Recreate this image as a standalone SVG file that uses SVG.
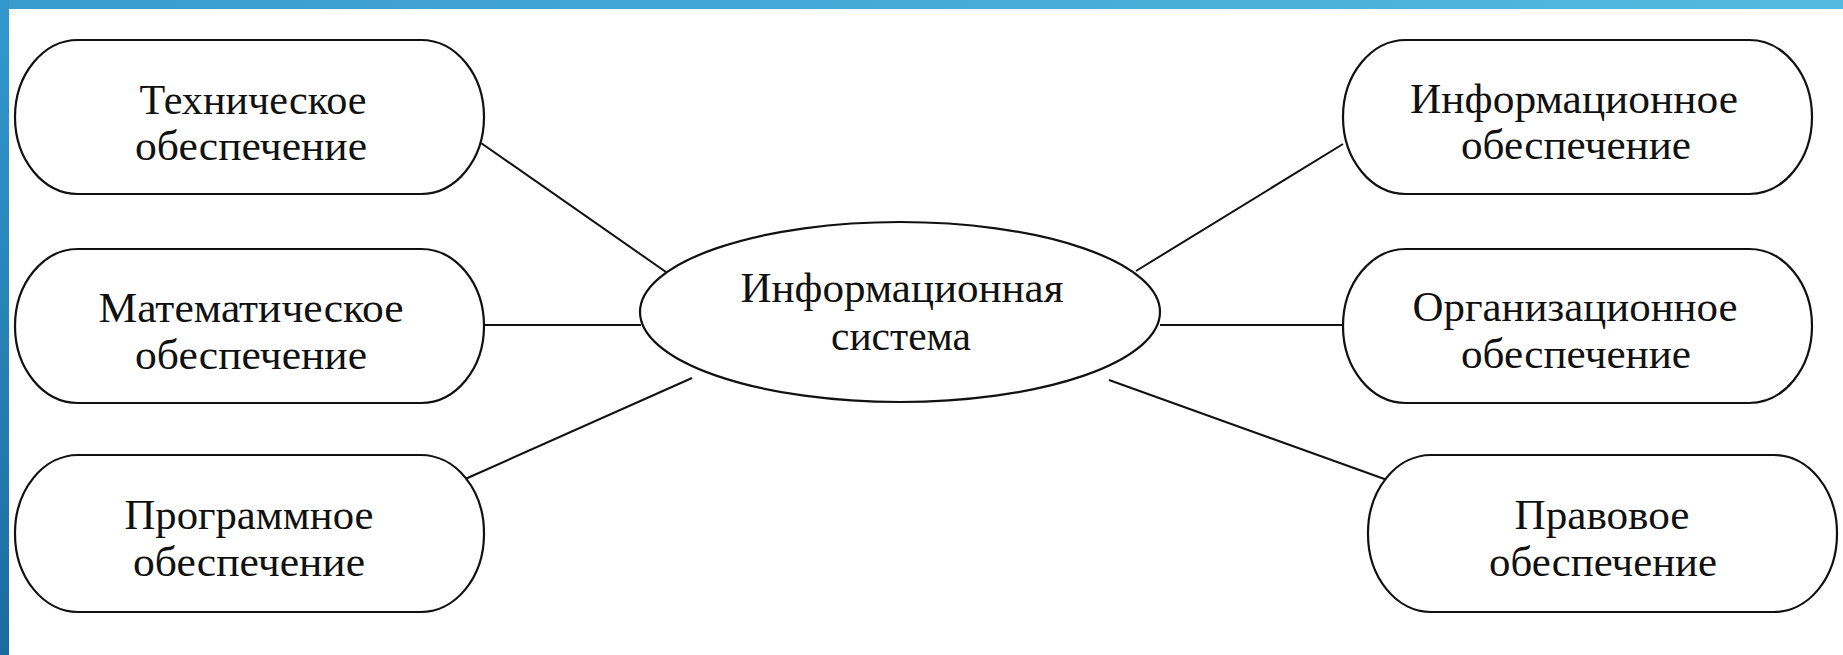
<svg xmlns="http://www.w3.org/2000/svg" width="1843" height="655" viewBox="0 0 1843 655">
<defs>
<linearGradient id="topbar" x1="0" y1="0" x2="1" y2="0">
<stop offset="0" stop-color="#3a9bcf"/>
<stop offset="1" stop-color="#55b9df"/>
</linearGradient>
<linearGradient id="leftbar" x1="0" y1="0" x2="0" y2="1">
<stop offset="0" stop-color="#3399cc"/>
<stop offset="1" stop-color="#1c6aa3"/>
</linearGradient>
<style>
.node{fill:#ffffff;stroke:#111111;stroke-width:2.2}
.conn line{stroke:#111111;stroke-width:2}
.lbl{font-family:"Liberation Serif","Times New Roman",serif;font-size:42px;fill:#111111;text-anchor:middle}
</style>
</defs>
<rect x="0" y="0" width="1843" height="655" fill="#ffffff"/>
<rect x="0" y="0" width="1843" height="9" fill="url(#topbar)"/>
<rect x="0" y="0" width="9" height="655" fill="url(#leftbar)"/>

<g id="connectors" class="conn">
<line x1="481" y1="143" x2="666" y2="272"/>
<line x1="484" y1="325" x2="641" y2="325"/>
<line x1="463" y1="480" x2="692" y2="378"/>
<line x1="1343" y1="144" x2="1136" y2="271"/>
<line x1="1160" y1="325" x2="1343" y2="325"/>
<line x1="1109" y1="380" x2="1390" y2="481"/>
</g>

<g id="n-tech">
<rect class="node" x="15" y="40" width="469" height="154" rx="63" ry="77"/>
<text class="lbl" x="253" y="114" textLength="227" lengthAdjust="spacingAndGlyphs">Техническое</text>
<text class="lbl" x="251" y="160" textLength="232" lengthAdjust="spacingAndGlyphs">обеспечение</text>
</g>

<g id="n-math">
<rect class="node" x="15" y="249" width="469" height="154" rx="63" ry="77"/>
<text class="lbl" x="251" y="322" textLength="305" lengthAdjust="spacingAndGlyphs">Математическое</text>
<text class="lbl" x="251" y="369" textLength="232" lengthAdjust="spacingAndGlyphs">обеспечение</text>
</g>

<g id="n-prog">
<rect class="node" x="15" y="455" width="469" height="157" rx="63" ry="78"/>
<text class="lbl" x="249" y="529" textLength="249" lengthAdjust="spacingAndGlyphs">Программное</text>
<text class="lbl" x="249" y="576" textLength="232" lengthAdjust="spacingAndGlyphs">обеспечение</text>
</g>

<g id="n-center">
<ellipse class="node" cx="900" cy="312" rx="260" ry="90"/>
<text class="lbl" x="902" y="302" textLength="323" lengthAdjust="spacingAndGlyphs">Информационная</text>
<text class="lbl" x="901" y="350" textLength="140" lengthAdjust="spacingAndGlyphs">система</text>
</g>

<g id="n-info">
<rect class="node" x="1343" y="40" width="469" height="154" rx="63" ry="77"/>
<text class="lbl" x="1574" y="113" textLength="328" lengthAdjust="spacingAndGlyphs">Информационное</text>
<text class="lbl" x="1576" y="159" textLength="230" lengthAdjust="spacingAndGlyphs">обеспечение</text>
</g>

<g id="n-org">
<rect class="node" x="1343" y="249" width="469" height="154" rx="63" ry="77"/>
<text class="lbl" x="1575" y="321" textLength="325" lengthAdjust="spacingAndGlyphs">Организационное</text>
<text class="lbl" x="1576" y="368" textLength="230" lengthAdjust="spacingAndGlyphs">обеспечение</text>
</g>

<g id="n-law">
<rect class="node" x="1368" y="455" width="469" height="157" rx="63" ry="78"/>
<text class="lbl" x="1602" y="529" textLength="175" lengthAdjust="spacingAndGlyphs">Правовое</text>
<text class="lbl" x="1603" y="576" textLength="228" lengthAdjust="spacingAndGlyphs">обеспечение</text>
</g>
</svg>
